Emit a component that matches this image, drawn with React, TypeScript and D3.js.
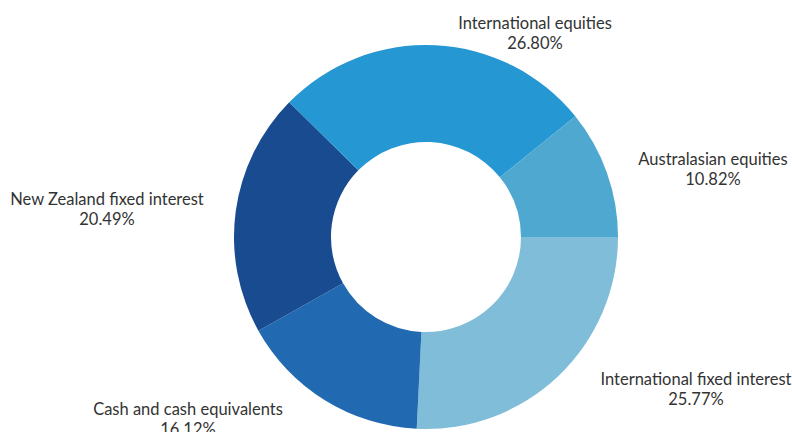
import React from "react";
import * as d3 from "d3";

const categories = [
  "International fixed interest",
  "Cash and cash equivalents",
  "New Zealand fixed interest",
  "International equities",
  "Australasian equities",
];
const values = [25.77, 16.12, 20.49, 26.8, 10.82];
const colors = ["#80bdd9", "#2169b1", "#194b90", "#2597d2", "#4fa8d0"];
// label anchor centres (layout only)
const labelPos: [number, number][] = [
  [696, 385],
  [188, 415],
  [107, 205],
  [535, 29],
  [713, 165],
];

const W = 792;
const H = 432;
const cx = 426;
const cy = 237;
const outerR = 192;
const innerR = 95;

export default function App() {
  const pie = d3
    .pie<number>()
    .sort(null)
    .startAngle(Math.PI / 2)
    .endAngle(Math.PI / 2 + 2 * Math.PI);
  const arcs = pie(values);
  const arc = d3.arc<d3.PieArcDatum<number>>().innerRadius(innerR).outerRadius(outerR);
  return (
    <svg
      width={W}
      height={H}
      style={{ position: "absolute", left: 0, top: 0, background: "#fff" }}
    >
      <g transform={`translate(${cx},${cy})`}>
        {arcs.map((a, i) => (
          <path key={i} d={arc(a) || ""} fill={colors[i]} />
        ))}
      </g>
      {categories.map((c, i) => (
        <text
          key={c}
          x={labelPos[i][0]}
          y={labelPos[i][1]}
          textAnchor="middle"
          fontFamily="Lato, sans-serif"
          fontSize={16.5}
          fill="#333"
        >
          <tspan x={labelPos[i][0]}>{c}</tspan>
          <tspan x={labelPos[i][0]} dy={20}>
            {values[i].toFixed(2)}%
          </tspan>
        </text>
      ))}
    </svg>
  );
}
